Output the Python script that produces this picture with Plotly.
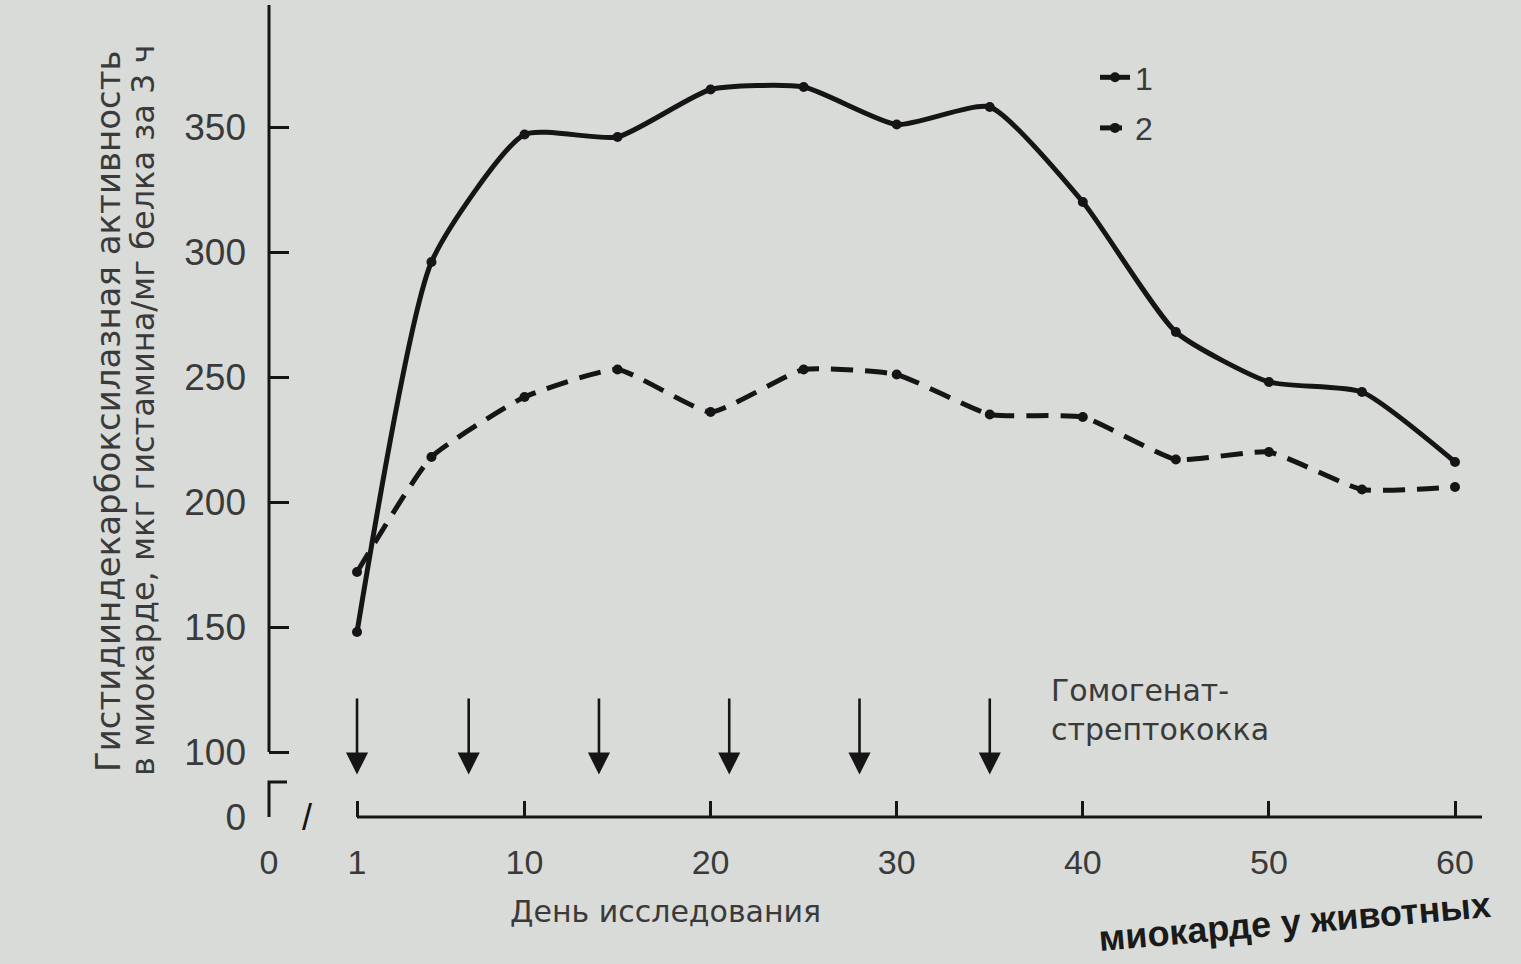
import plotly.graph_objects as go

# ---------------- data (rotation of the scan removed) ----------------
days = [1, 5, 10, 15, 20, 25, 30, 35, 40, 45, 50, 55, 60]
series1 = [148, 296, 347, 346, 365, 366, 351, 358, 320, 268, 248, 244, 216]   # curve 1 (solid)
series2 = [172, 218, 242, 253, 236, 253, 251, 235, 234, 217, 220, 205, 206]   # curve 2 (dashed)
series_names = ["1", "2"]
injection_days = [1, 7, 14, 21, 28, 35]          # arrows: homogenate of streptococcus
x_tick_days = [1, 10, 20, 30, 40, 50, 60]
y_tick_values = [100, 150, 200, 250, 300, 350]
x_break_label = "0"
y_break_label = "0"

y_title_line1 = "Гистидиндекарбоксилазная активность"
y_title_line2 = "в миокарде, мкг гистамина/мг белка за 3 ч"
x_title = "День исследования"
arrow_label = "Гомогенат-<br>стрептококка"
caption_fragment = "миокарде у животных"

# ---------------- layout constants ----------------
W, H = 1521, 964
ML, MR, MT, MB = 269, 39, 5, 147
X_RANGE = [-3.73, 61.45]
Y_RANGE = [74, 398.8]
PLOT_W = W - ML - MR
PLOT_H = H - MT - MB

INK = "#151515"
TXT = "#3a3a3a"
BG = "#d9dbd8"
NUM_FONT = "Liberation Sans"
LBL_FONT = "DejaVu Sans"

fig = go.Figure()
line_styles = [dict(color=INK, width=5, shape="spline", smoothing=0.55),
               dict(color=INK, width=5, shape="spline", smoothing=0.45, dash="22px,12px")]
for name, ys, ls in zip(series_names, [series1, series2], line_styles):
    fig.add_trace(go.Scatter(
        x=days, y=ys, mode="lines+markers", name=name, legendgroup=name,
        line=ls, marker=dict(size=10, color=INK),
        cliponaxis=False,
    ))

# injection arrows
tip_v = Y_RANGE[0] + 17
tail_v = tip_v + 31
annotations = []
for d in injection_days:
    annotations.append(dict(
        x=d, y=tip_v, ax=d, ay=tail_v, xref="x", yref="y", axref="x", ayref="y",
        text="", showarrow=True, arrowhead=2, arrowsize=1.7, arrowwidth=2.6,
        arrowcolor=INK,
    ))

# y-axis title (two lines)
for txt, xpx, fs in [(y_title_line1, 108, 34), (y_title_line2, 143, 32)]:
    annotations.append(dict(
        text=txt, xref="paper", yref="paper", x=(xpx - ML) / PLOT_W, y=0.5,
        xanchor="center", yanchor="middle", textangle=-90, showarrow=False,
        font=dict(family=LBL_FONT, size=fs, color=TXT),
    ))

# x-axis title
annotations.append(dict(
    text=x_title, xref="x", yref="paper", x=17.6, y=-(911 - (H - MB)) / PLOT_H,
    xanchor="center", yanchor="middle", showarrow=False,
    font=dict(family=LBL_FONT, size=30, color=TXT),
))

# label of the arrows
annotations.append(dict(
    text=arrow_label, xref="x", yref="y", x=38.2, y=117,
    xanchor="left", yanchor="middle", align="left", showarrow=False,
    font=dict(family=LBL_FONT, size=30, color=TXT),
))

# axis break mark "/"
annotations.append(dict(
    text="/", xref="x", yref="y", x=-1.7, y=Y_RANGE[0],
    xanchor="center", yanchor="middle", showarrow=False,
    font=dict(family=NUM_FONT, size=36, color=INK),
))

# caption fragment at the bottom edge of the page
annotations.append(dict(
    text="<b>" + caption_fragment + "</b>", xref="paper", yref="paper",
    x=(1095 - ML) / PLOT_W, y=-(882 - (H - MB)) / PLOT_H,
    xanchor="left", yanchor="top", textangle=-5, showarrow=False,
    font=dict(family=NUM_FONT, size=36, color="#1a1a1a"),
))

# axis lines drawn with breaks
stub = 18 / PLOT_W
shapes = [
    dict(type="line", xref="x", yref="paper", x0=x_tick_days[0], x1=X_RANGE[1], y0=0, y1=0,
         line=dict(color=INK, width=3)),
    dict(type="line", xref="paper", yref="y", x0=0, x1=0, y0=y_tick_values[0], y1=Y_RANGE[1],
         line=dict(color=INK, width=3)),
    dict(type="path", xref="paper", yref="y",
         path=f"M {stub},{Y_RANGE[0] + 14} L 0,{Y_RANGE[0] + 14} L 0,{Y_RANGE[0]}",
         line=dict(color=INK, width=3)),
]

fig.update_layout(
    width=W, height=H,
    margin=dict(l=ML, r=MR, t=MT, b=MB),
    paper_bgcolor=BG, plot_bgcolor=BG,
    showlegend=True,
    legend=dict(x=(1095 - ML) / PLOT_W, y=(H - MB - 50) / PLOT_H, xanchor="left", yanchor="top",
                bgcolor="rgba(0,0,0,0)", font=dict(family=NUM_FONT, size=32, color=TXT),
                tracegroupgap=6),
    xaxis=dict(range=X_RANGE, showgrid=False, zeroline=False, showline=False,
               ticks="inside", ticklen=16, tickwidth=2.5, tickcolor=INK,
               tickvals=[X_RANGE[0]] + x_tick_days,
               ticktext=[x_break_label] + [str(d) for d in x_tick_days],
               tickfont=dict(family=NUM_FONT, size=34, color=TXT),
               ticklabelstandoff=22),
    yaxis=dict(range=Y_RANGE, showgrid=False, zeroline=False, showline=False,
               ticks="inside", ticklen=20, tickwidth=2.5, tickcolor=INK,
               tickvals=[Y_RANGE[0]] + y_tick_values,
               ticktext=[y_break_label] + [str(v) for v in y_tick_values],
               tickfont=dict(family=NUM_FONT, size=37, color=TXT),
               ticklabelstandoff=22),
    annotations=annotations,
    shapes=shapes,
)

fig.write_html("out.html", config={"displayModeBar": False},
               post_script="document.body.style.margin='0';document.body.style.background='" + BG + "';")
